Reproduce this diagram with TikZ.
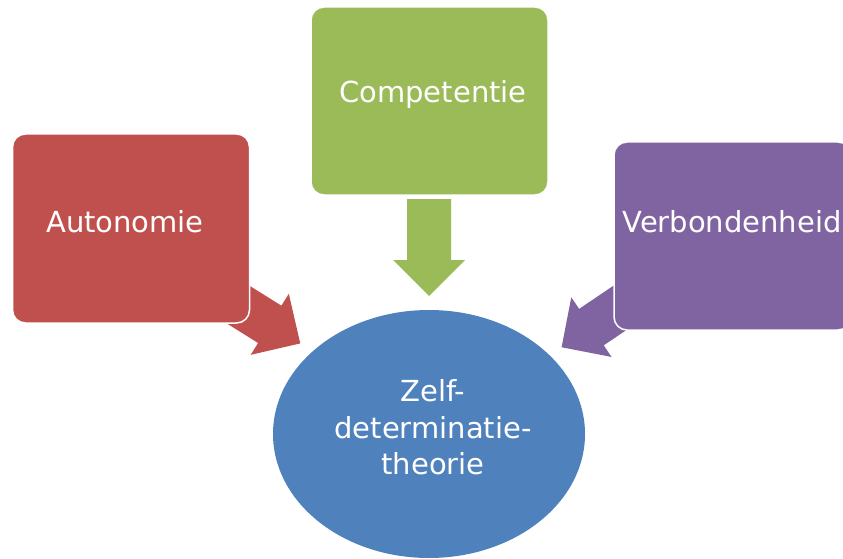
\documentclass[tikz,border=0pt]{standalone}
\usepackage{fontspec}
\setmainfont{DejaVu Sans}
\usetikzlibrary{shapes.geometric}
\definecolor{cred}{HTML}{C0504D}
\definecolor{cgreen}{HTML}{9BBB59}
\definecolor{cpurple}{HTML}{8064A2}
\definecolor{cblue}{HTML}{4F81BD}
\begin{document}
\begin{tikzpicture}[x=1pt,y=-1pt,
  box/.style={rectangle, rounded corners=13pt, draw=white, line width=1.5pt,
              minimum width=237pt, minimum height=188pt, inner sep=0pt},
  lbl/.style={text=white, font=\fontsize{29}{36.5}\selectfont, anchor=base, inner sep=0pt},
  blockarrow/.pic={\fill[pic actions] (0,-22) -- (61,-22) -- (61,-36) -- (97,0) -- (61,36) -- (61,22) -- (0,22) -- cycle;}
]
\useasboundingbox (0,0) rectangle (843,559);
% arrows (under the boxes)
\pic[fill=cgreen, rotate=-90] at (429,199) {blockarrow};
\pic[fill=cred, rotate=-32] at (218,292) {blockarrow};
\pic[fill=cpurple, rotate=-146] at (642,293) {blockarrow};
% boxes
\node[box, fill=cred, minimum height=189pt] (auto) at (131,228.5) {};
\node[box, fill=cgreen] (comp) at (429.5,101) {};
\node[box, fill=cpurple] (verb) at (732.5,236) {};
\node[lbl] (autot) at (125,232) {Autonomie};
\node[lbl] (compt) at (433,103) {Competentie};
\node[lbl] (verbt) at (732,232) {Verbondenheid};
% ellipse
\node[ellipse, fill=cblue, minimum width=312pt, minimum height=248pt, inner sep=0pt] (sdt) at (429,434) {};
\node[lbl, anchor=center, align=center] (sdtt) at (433,427.5) {Zelf-\\determinatie-\\theorie};
\end{tikzpicture}
\end{document}
